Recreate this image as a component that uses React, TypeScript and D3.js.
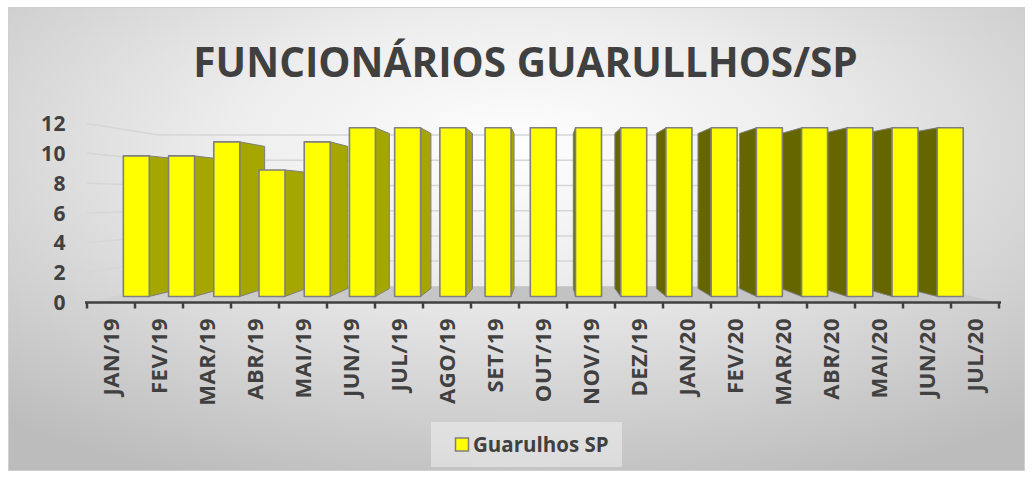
import React from "react";
import * as d3 from "d3";

const title = "FUNCIONÁRIOS GUARULLHOS/SP";
const seriesName = "Guarulhos SP";
const categories = [
  "JAN/19", "FEV/19", "MAR/19", "ABR/19", "MAI/19", "JUN/19", "JUL/19",
  "AGO/19", "SET/19", "OUT/19", "NOV/19", "DEZ/19", "JAN/20", "FEV/20",
  "MAR/20", "ABR/20", "MAI/20", "JUN/20", "JUL/20",
];
const values = [10, 10, 11, 9, 11, 12, 12, 12, 12, 12, 12, 12, 12, 12, 12, 12, 12, 12, 12];
const yTicks = [0, 2, 4, 6, 8, 10, 12];

const W = 1033;
const H = 479;
const FONT = "'Open Sans', 'DejaVu Sans', sans-serif";
const TEXT = "#404040";

// perspective: vanishing point and depth scales
const VX = 548;
const VY = 198;
const S_FRONT = 0.942;
const S_BACK = 0.866;
const S_WALL = 0.845;

const project = (x: number, y: number, s: number): [number, number] => [
  VX + s * (x - VX),
  VY + s * (y - VY),
];
const pts = (p: [number, number][]) => p.map((d) => d.join(",")).join(" ");

const App: React.FC = () => {
  // category plane (front of the chart)
  const xAxis = d3.scaleBand<string>().domain(categories).range([87, 999]).padding(0);
  const xBar = d3
    .scaleBand<string>()
    .domain(categories)
    .range([87, 999])
    .paddingInner(0.425)
    .paddingOuter(0.2125);
  const y = d3.scaleLinear().domain([0, 12]).range([302.5, 123.5]);

  const x0 = 87;
  const x1 = 999;

  const bars = categories.map((c, i) => ({ c, v: values[i], i }));
  const left = bars.filter((b) => (xBar(b.c) || 0) + xBar.bandwidth() / 2 < VX);
  const right = bars.filter((b) => (xBar(b.c) || 0) + xBar.bandwidth() / 2 >= VX).reverse();
  const ordered = [...left, ...right];

  const floor = [
    project(x0, y(0), 1),
    project(x1, y(0), 1),
    project(x1, y(0), S_WALL),
    project(x0, y(0), S_WALL),
  ];

  const tickXs = [...categories.map((c) => xAxis(c) || 0), x1];

  return (
    <svg
      width={W}
      height={H}
      style={{ position: "absolute", left: 0, top: 0 }}
      xmlns="http://www.w3.org/2000/svg"
    >
      <defs>
        <radialGradient id="bg" cx="0.5" cy="0.3" r="0.78">
          <stop offset="0" stopColor="#fefefe" />
          <stop offset="0.35" stopColor="#eeeeee" />
          <stop offset="1" stopColor="#bcbcbc" />
        </radialGradient>
        <linearGradient id="floorG" x1="0" x2="1" y1="0" y2="0">
          <stop offset="0" stopColor="#d2d2d2" />
          <stop offset="0.5" stopColor="#c2c2c2" />
          <stop offset="1" stopColor="#c8c8c8" />
        </linearGradient>
      </defs>
      <rect x={0} y={0} width={W} height={H} fill="#ffffff" />
      <rect x={8.5} y={7.5} width={1016} height={463} fill="url(#bg)" stroke="#d0d0d0" strokeWidth={1} />

      {/* Title */}
      <text
        x={525.5}
        y={77}
        textAnchor="middle"
        fontFamily={FONT}
        fontWeight="bold"
        fontSize={40.5}
        fill={TEXT}
      >
        {title}
      </text>

      {/* Walls gridlines */}
      {yTicks.filter((t) => t > 0).map((t) => {
        const a = project(x0, y(t), 1);
        const b = project(x0, y(t), S_WALL);
        const c = project(x1, y(t), S_WALL);
        return (
          <polyline
            key={t}
            points={pts([a, b, c])}
            fill="none"
            stroke="#d6d6d6"
            strokeWidth={1.5}
          />
        );
      })}

      {/* Floor */}
      <polygon points={pts(floor)} fill="url(#floorG)" />

      {/* Bars */}
      {ordered.map((b) => {
        const bx0 = xBar(b.c) || 0;
        const bx1 = bx0 + xBar.bandwidth();
        const top = y(b.v);
        const bot = y(0);
        const front = [
          project(bx0, top, S_FRONT),
          project(bx1, top, S_FRONT),
          project(bx1, bot, S_FRONT),
          project(bx0, bot, S_FRONT),
        ];
        let side: [number, number][] | null = null;
        let sideFill = "#a6a600";
        if (bx1 < VX) {
          side = [
            project(bx1, top, S_FRONT),
            project(bx1, top, S_BACK),
            project(bx1, bot, S_BACK),
            project(bx1, bot, S_FRONT),
          ];
        } else if (bx0 > VX) {
          sideFill = "#666600";
          side = [
            project(bx0, top, S_FRONT),
            project(bx0, top, S_BACK),
            project(bx0, bot, S_BACK),
            project(bx0, bot, S_FRONT),
          ];
        }
        return (
          <g key={b.c}>
            {side && (
              <polygon
                points={pts(side)}
                fill={sideFill}
                stroke="#7f7f7f"
                strokeWidth={1}
                strokeLinejoin="round"
              />
            )}
            <polygon
              points={pts(front)}
              fill="#ffff00"
              stroke="#7f7f7f"
              strokeWidth={1.6}
              strokeLinejoin="round"
            />
          </g>
        );
      })}

      {/* X axis */}
      <line x1={85} x2={1001} y1={y(0)} y2={y(0)} stroke={TEXT} strokeWidth={2.5} />
      {tickXs.map((tx, i) => (
        <line key={i} x1={tx} x2={tx} y1={y(0)} y2={y(0) + 6} stroke={TEXT} strokeWidth={2.5} />
      ))}
      {categories.map((c) => (
        <text
          key={c}
          transform={`translate(${(xAxis(c) || 0) + xAxis.bandwidth() / 2},318) rotate(-90)`}
          textAnchor="end"
          dy="0.36em"
          fontFamily={FONT}
          fontWeight="bold"
          fontSize={22}
          letterSpacing={0.5}
          fill={TEXT}
        >
          {c}
        </text>
      ))}

      {/* Y axis labels */}
      {yTicks.map((t) => (
        <text
          key={t}
          x={66}
          y={y(t)}
          dy="0.36em"
          textAnchor="end"
          fontFamily={FONT}
          fontWeight="bold"
          fontSize={21}
          letterSpacing={0.5}
          fill={TEXT}
        >
          {t}
        </text>
      ))}

      {/* Legend */}
      <rect x={431} y={422} width={191} height={45} fill="#f4f4f4" fillOpacity={0.5} />
      <rect x={455.5} y={438} width={13} height={13} fill="#ffff00" stroke="#7f7f7f" strokeWidth={1.5} />
      <text x={473} y={452} fontFamily={FONT} fontWeight="bold" fontSize={20.5} fill={TEXT}>
        {seriesName}
      </text>
    </svg>
  );
};

export default App;
